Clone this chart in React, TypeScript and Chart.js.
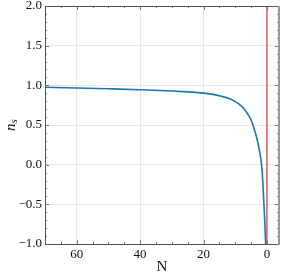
import React, { useEffect, useRef } from "react";
import { Chart, registerables } from "chart.js";

Chart.register(...registerables);

const N_VALUES = [70, 60, 50, 40, 30, 25, 22, 20, 17, 14, 12, 10, 9, 7.5, 6, 4.85, 3.8, 3, 2.4, 1.7, 1.3, 0.95, 0.65, 0.4];
const NS_VALUES = [0.975, 0.967, 0.957, 0.945, 0.928, 0.917, 0.909, 0.902, 0.886, 0.858, 0.833, 0.795, 0.77, 0.717, 0.635, 0.548, 0.42, 0.3, 0.18, 0.0, -0.22, -0.5, -0.76, -1.0];
const RED_LINE_N = [0, 0];
const RED_LINE_Y = [-1, 2];
const X_TICKS = [60, 40, 20, 0];
const Y_TICKS = [-1, -0.5, 0, 0.5, 1, 1.5, 2];
const X_LABEL = "N";

const FONT = "'Liberation Serif', 'DejaVu Serif', serif";

const framePlugin = {
  id: "frame",
  afterDraw(chart: any) {
    const { ctx, chartArea: a, scales } = chart;
    ctx.save();
    ctx.strokeStyle = "#777";
    ctx.lineWidth = 1;
    const xs = scales.x;
    const ys = scales.y;
    for (let v = 0; v <= 70; v += 5) {
      const px = Math.round(xs.getPixelForValue(v)) + 0.5;
      const len = v % 20 === 0 ? 4 : 2;
      ctx.beginPath();
      ctx.moveTo(px, a.bottom);
      ctx.lineTo(px, a.bottom - len);
      ctx.moveTo(px, a.top);
      ctx.lineTo(px, a.top + len);
      ctx.stroke();
    }
    for (let v = -1; v <= 2.001; v += 0.1) {
      const py = Math.round(ys.getPixelForValue(v)) + 0.5;
      const major = Math.abs(v * 2 - Math.round(v * 2)) < 1e-6;
      const len = major ? 4 : 2;
      ctx.beginPath();
      ctx.moveTo(a.left, py);
      ctx.lineTo(a.left + len, py);
      ctx.moveTo(a.right, py);
      ctx.lineTo(a.right - len, py);
      ctx.stroke();
    }
    ctx.strokeStyle = "#555";
    ctx.lineWidth = 1;
    ctx.beginPath();
    ctx.moveTo(a.left + 0.5, a.bottom + 0.5);
    ctx.lineTo(a.left + 0.5, a.top + 0.5);
    ctx.lineTo(a.right, a.top + 0.5);
    ctx.moveTo(a.left, a.bottom + 0.5);
    ctx.lineTo(a.right, a.bottom + 0.5);
    ctx.stroke();
    ctx.strokeStyle = "#999";
    ctx.lineWidth = 2;
    ctx.beginPath();
    ctx.moveTo(a.right, a.top);
    ctx.lineTo(a.right, a.bottom + 1);
    ctx.stroke();
    ctx.fillStyle = "#111";
    ctx.translate(11, (a.top + a.bottom) / 2);
    ctx.rotate(-Math.PI / 2);
    ctx.textBaseline = "middle";
    ctx.textAlign = "left";
    ctx.font = `italic 15px ${FONT}`;
    const w = ctx.measureText("n").width;
    ctx.font = `italic 11px ${FONT}`;
    const sw = ctx.measureText("s").width;
    const total = w + sw;
    ctx.font = `italic 15px ${FONT}`;
    ctx.fillText("n", -total / 2, 0);
    ctx.font = `italic 11px ${FONT}`;
    ctx.fillText("s", -total / 2 + w, 3);
    ctx.restore();
    ctx.save();
    ctx.fillStyle = "#111";
    ctx.font = `15px ${FONT}`;
    ctx.textAlign = "center";
    ctx.textBaseline = "middle";
    ctx.fillText(X_LABEL, (a.left + a.right) / 2, 267);
    ctx.restore();
  },
};

export default function App() {
  const ref = useRef<HTMLCanvasElement>(null);
  useEffect(() => {
    document.body.style.margin = "0";
    const canvas = ref.current!;
    const chart = new Chart(canvas, {
      type: "scatter",
      data: {
        datasets: [
          {
            data: N_VALUES.map((n, i) => ({ x: n, y: NS_VALUES[i] })),
            showLine: true,
            borderColor: "#1a78b4",
            backgroundColor: "#1a78b4",
            borderWidth: 1.6,
            pointRadius: 0,
            cubicInterpolationMode: "monotone",
          },
          {
            data: RED_LINE_N.map((n, i) => ({ x: n, y: RED_LINE_Y[i] })),
            showLine: true,
            borderColor: "rgba(214,60,60,0.75)",
            borderWidth: 1.6,
            pointRadius: 0,
          },
        ],
      },
      options: {
        responsive: false,
        animation: false,
        maintainAspectRatio: false,
        layout: { padding: { top: 6, right: 3, left: 0, bottom: 0 } },
        plugins: { legend: { display: false }, tooltip: { enabled: false } },
        scales: {
          x: {
            type: "linear",
            reverse: true,
            min: -3.8,
            max: 70,
            afterBuildTicks: (s: any) => {
              s.ticks = X_TICKS.map((v) => ({ value: v }));
            },
            afterFit: (s: any) => {
              s.height = 34;
              s.paddingLeft = 0;
              s.paddingRight = 0;
            },
            grid: { color: "#e8e8e8", drawTicks: false },
            border: { display: false },
            ticks: {
              padding: 3,
              color: "#111",
              font: { family: FONT, size: 13 },
              callback: (v: any) => String(v),
            },
          },
          y: {
            type: "linear",
            min: -1,
            max: 2,
            afterBuildTicks: (s: any) => {
              s.ticks = Y_TICKS.map((v) => ({ value: v }));
            },
            afterFit: (s: any) => {
              s.width = 45;
              s.paddingTop = 0;
              s.paddingBottom = 0;
            },
            grid: { color: "#e8e8e8", drawTicks: false },
            border: { display: false },
            ticks: {
              padding: 3,
              color: "#111",
              font: { family: FONT, size: 13 },
              callback: (v: any) => Number(v).toFixed(1).replace("-", "\u2212"),
            },
          },
        },
      },
      plugins: [framePlugin],
    });
    return () => chart.destroy();
  }, []);
  return <canvas ref={ref} width={282} height={278} style={{ display: "block" }} />;
}
